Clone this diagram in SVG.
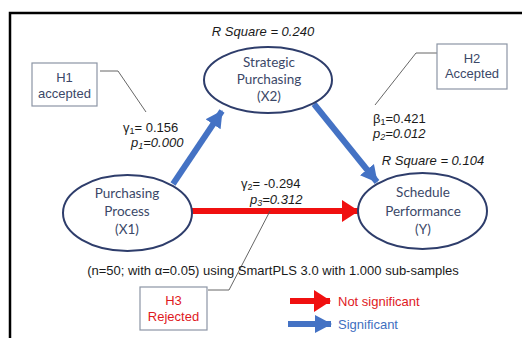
<svg xmlns="http://www.w3.org/2000/svg" width="522" height="338" viewBox="0 0 522 338">
<defs>
<style>
.bg{fill:#fff}
.frame{stroke:#000;stroke-width:2.5;fill:none}
.node ellipse{fill:#fff;stroke:#2e3d6b;stroke-width:2}
.node text{font-family:Lato,"Open Sans",sans-serif;font-size:13.5px;fill:#3b4868;text-anchor:middle}
.box rect{fill:#fff;stroke:#8c95a5;stroke-width:1.2}
.box text{font-family:"Liberation Sans",Arial,sans-serif;font-size:13px;fill:#3b4868;text-anchor:middle}
.box.rej text{fill:#e0191e}
.lbl{font-family:"Liberation Sans",Arial,sans-serif;font-size:13px;fill:#1a1a1a}
.it{font-style:italic}
.sub{font-size:9px}
.leader{stroke:#555;stroke-width:0.9;fill:none}
.blue{stroke:#4472c4;stroke-width:6;fill:none}
.redline{stroke:#f01010;stroke-width:6;fill:none}
</style>
<marker id="hb" markerUnits="userSpaceOnUse" markerWidth="18" markerHeight="20" refX="16" refY="10" orient="auto"><path d="M0,1 L17,10 L0,19 Z" fill="#4472c4"/></marker>
<marker id="hr" markerUnits="userSpaceOnUse" markerWidth="18" markerHeight="22" refX="16" refY="11" orient="auto"><path d="M0,0 L17,11 L0,22 Z" fill="#f01010"/></marker>
</defs>
<rect class="bg" x="0" y="0" width="522" height="338"/>
<path class="frame" d="M10,338 V13 H522"/>

<g id="connectors">
<line class="blue" x1="173" y1="184" x2="222" y2="111" marker-end="url(#hb)"/>
<line class="blue" x1="314" y1="104" x2="377" y2="182" marker-end="url(#hb)"/>
<line class="redline" x1="191" y1="211" x2="358" y2="211" marker-end="url(#hr)"/>
<polyline class="leader" points="100,71 118,71 146,112"/>
<polyline class="leader" points="437,53 416,53 375,105"/>
<polyline class="leader" points="270,211 229,290 208,290"/>
</g>

<g id="X2" class="node">
<ellipse cx="268" cy="80" rx="64" ry="33"/>
<text x="269" y="67">Strategic</text>
<text x="269" y="84">Purchasing</text>
<text x="269" y="101">(X2)</text>
</g>
<g id="X1" class="node">
<ellipse cx="127.5" cy="213" rx="64.5" ry="38"/>
<text x="127" y="198">Purchasing</text>
<text x="127" y="216">Process</text>
<text x="127" y="234">(X1)</text>
</g>
<g id="Y" class="node">
<ellipse cx="422.5" cy="211" rx="64.5" ry="38"/>
<text x="423" y="197">Schedule</text>
<text x="423" y="216">Performance</text>
<text x="423" y="234">(Y)</text>
</g>

<g id="H1" class="box">
<rect x="32" y="63" width="65" height="43"/>
<text x="64.5" y="82">H1</text>
<text x="64.5" y="98">accepted</text>
</g>
<g id="H2" class="box">
<rect x="437" y="44" width="70" height="45"/>
<text x="472" y="63">H2</text>
<text x="472" y="78">Accepted</text>
</g>
<g id="H3" class="box rej">
<rect x="140" y="287" width="67" height="43"/>
<text x="173.5" y="305">H3</text>
<text x="173.5" y="321">Rejected</text>
</g>

<g id="labels">
<text class="lbl it" x="263" y="36" text-anchor="middle">R Square = 0.240</text>
<text class="lbl it" x="433" y="165" text-anchor="middle">R Square = 0.104</text>
<text class="lbl" x="123" y="132">γ<tspan class="sub" dy="2">1</tspan><tspan dy="-2">= 0.156</tspan></text>
<text class="lbl it" x="131" y="147">p<tspan class="sub" dy="2">1</tspan><tspan dy="-2">=0.000</tspan></text>
<text class="lbl" x="373" y="123">β<tspan class="sub" dy="2">1</tspan><tspan dy="-2">=0.421</tspan></text>
<text class="lbl it" x="373" y="138">p<tspan class="sub" dy="2">2</tspan><tspan dy="-2">=0.012</tspan></text>
<text class="lbl" x="241" y="188">γ<tspan class="sub" dy="2">2</tspan><tspan dy="-2">= -0.294</tspan></text>
<text class="lbl it" x="250" y="204">p<tspan class="sub" dy="2">3</tspan><tspan dy="-2">=0.312</tspan></text>
<text class="lbl" x="273" y="275" text-anchor="middle" font-size="12">(n=50; with α=0.05) using SmartPLS 3.0 with 1.000 sub-samples</text>
</g>

<g id="legend">
<line class="redline" x1="290" y1="301" x2="330" y2="301" marker-end="url(#hr)"/>
<line class="blue" x1="288" y1="324" x2="331" y2="324" marker-end="url(#hb)"/>
<text class="lbl" x="338" y="306" style="fill:#e0191e" font-size="12.5">Not significant</text>
<text class="lbl" x="338" y="329" style="fill:#3f6fbf" font-size="12.5">Significant</text>
</g>
</svg>
